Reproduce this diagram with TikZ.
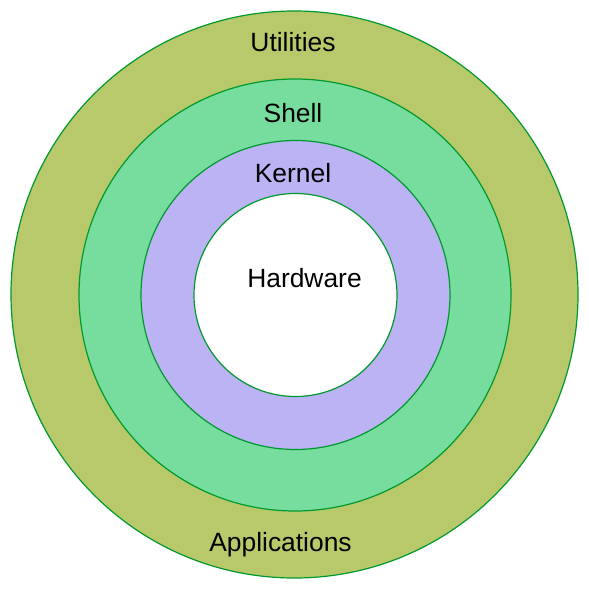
\documentclass[tikz,border=0pt]{standalone}
\usepackage{fontspec}
\setmainfont{Liberation Sans}
\definecolor{olivefill}{HTML}{B7C96A}
\definecolor{greenfill}{HTML}{77DD9F}
\definecolor{lavfill}{HTML}{BBB3F4}
\definecolor{ringline}{HTML}{00992E}
\tikzset{
  ring/.style={circle, draw=ringline, line width=1.2pt, inner sep=0pt, minimum size=#1},
  lbl/.style={font=\fontsize{26.4}{30}\selectfont, text=black, inner sep=0pt}
}
\begin{document}
\begin{tikzpicture}[x=1pt,y=-1pt]
\useasboundingbox (0,0) rectangle (589,589);
\node[ring=567pt, fill=olivefill] (util) at (294.5,294.5) {};
\node[ring=432pt, fill=greenfill] (shell) at (295,295) {};
\node[ring=309pt, fill=lavfill] (kernel) at (295.5,295) {};
\node[ring=203pt, fill=white] (hw) at (295.5,295) {};
\node[lbl] (tutil) at (293,42) {Utilities};
\node[lbl] (tshell) at (293,113) {Shell};
\node[lbl] (tkernel) at (293,173) {Kernel};
\node[lbl] (thw) at (304.5,278) {Hardware};
\node[lbl] (tapp) at (280.5,545) {Applications};
\end{tikzpicture}
\end{document}
